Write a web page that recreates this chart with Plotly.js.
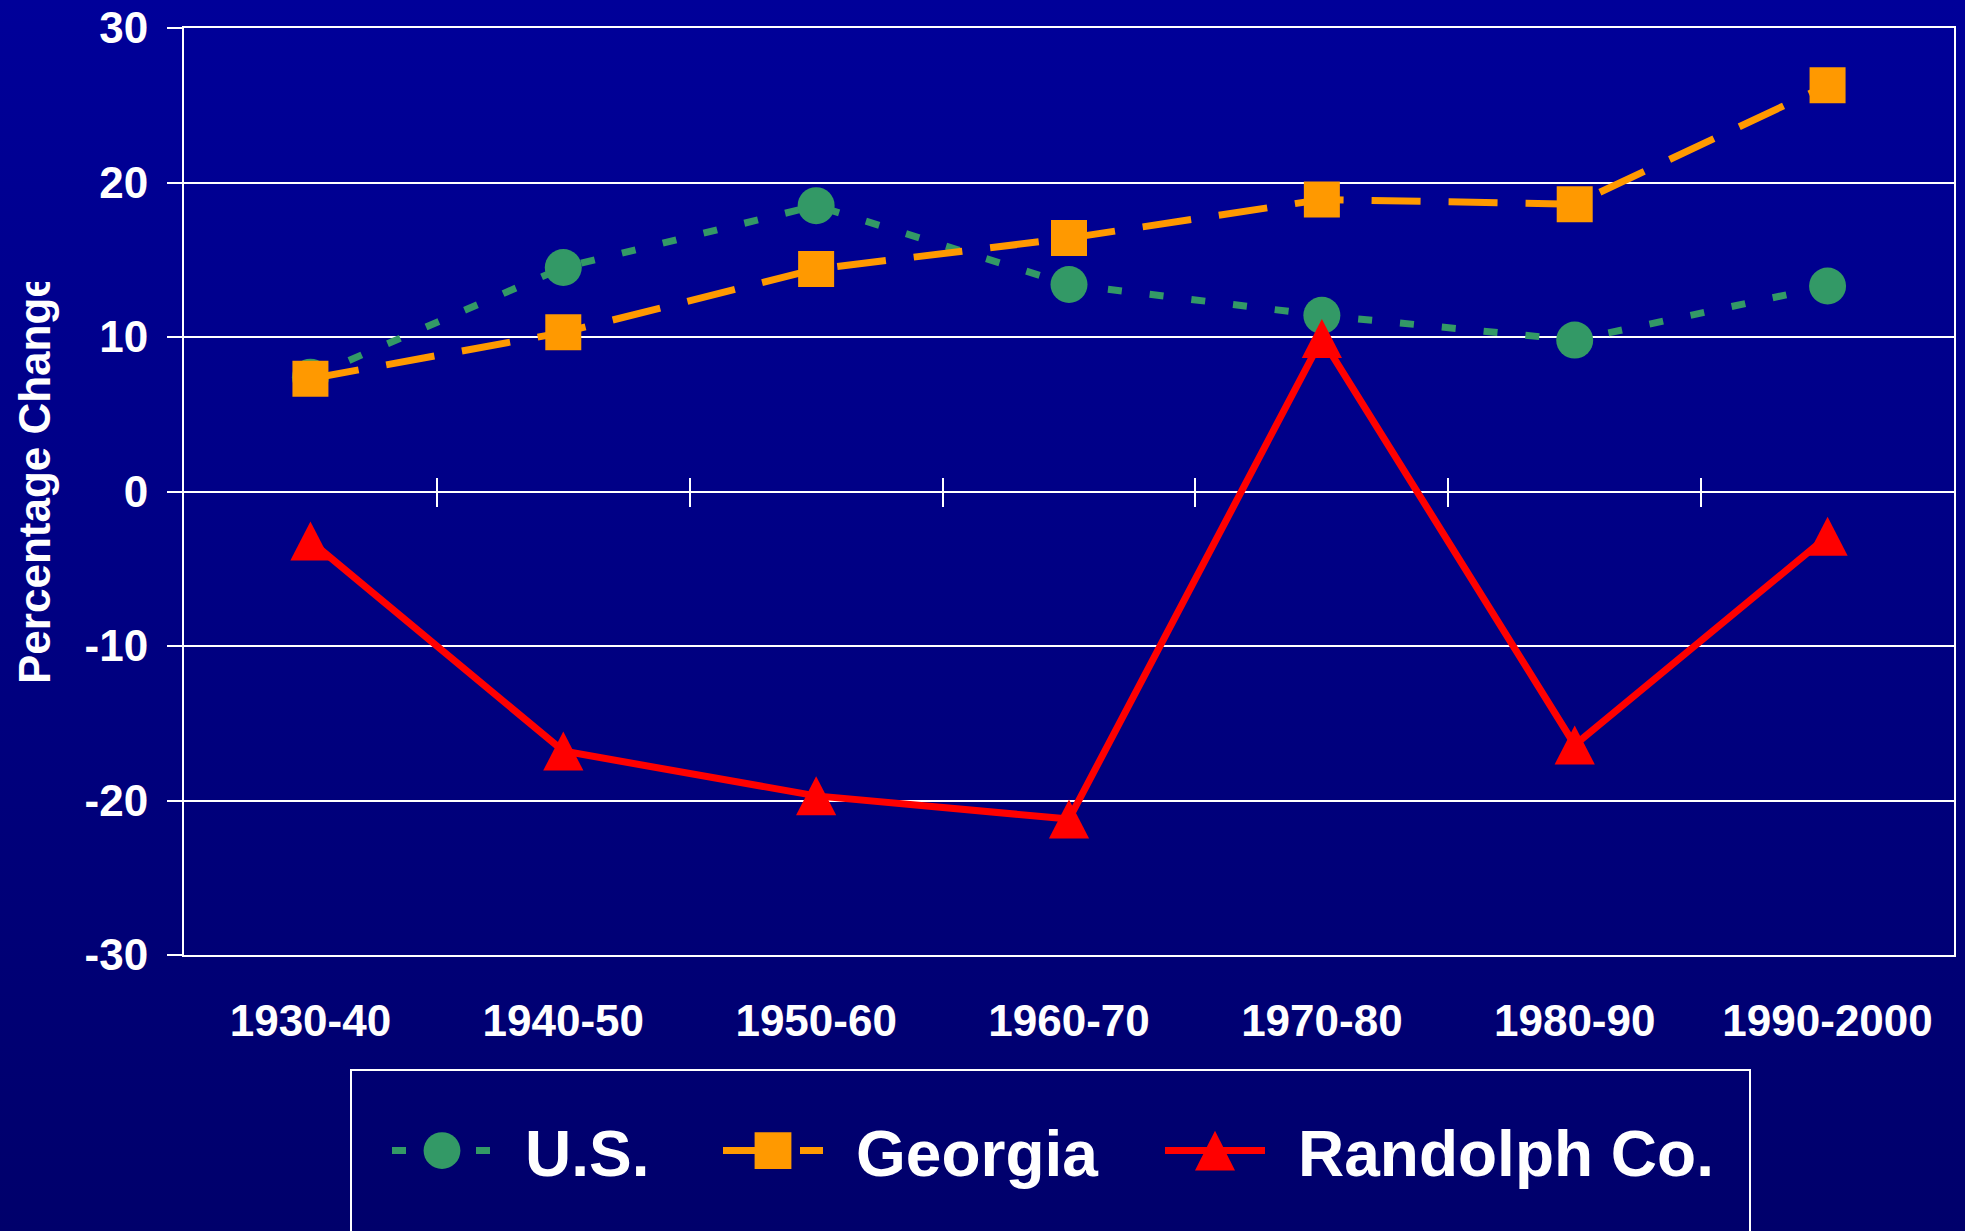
<!DOCTYPE html>
<html><head><meta charset="utf-8">
<script src="https://cdn.plot.ly/plotly-3.0.1.min.js"></script>
<style>
html,body{margin:0;padding:0;}
body{width:1965px;height:1231px;overflow:hidden;background:linear-gradient(to bottom,#000099 0%,#00006b 100%);}
#chart{width:1965px;height:1231px;}
</style></head><body>
<svg width="0" height="0" style="position:absolute"><defs><clipPath id="ytclip" clipPathUnits="userSpaceOnUse"><rect x="0" y="282" width="180" height="949"/></clipPath></defs></svg>
<div id="chart"></div>
<script>
const categories = ['1930-40','1940-50','1950-60','1960-70','1970-80','1980-90','1990-2000'];
const usValues = [7.4, 14.5, 18.5, 13.4, 11.4, 9.8, 13.3];
const georgiaValues = [7.3, 10.3, 14.4, 16.4, 18.9, 18.6, 26.3];
const randolphValues = [-3.2, -16.8, -19.7, -21.2, 9.9, -16.4, -2.9];
const seriesNames = ['U.S.', 'Georgia', 'Randolph Co.'];
const yTickValues = [-30, -20, -10, 0, 10, 20, 30];
const yTickText = yTickValues.map(v => String(v));
const yTitle = 'Percentage Change';

const FONT = '"Liberation Sans", Arial, sans-serif';
const boundaries = categories.slice(1).map((c, i) => i + 0.5);
const catRange = [-0.5, categories.length - 0.5];

const traces = [
  {x: categories, y: usValues, name: seriesNames[0], type: 'scatter', mode: 'lines+markers',
   line: {color: '#339966', width: 7, dash: '14px,28px'},
   marker: {symbol: 'circle', size: 37, color: '#339966', line: {width: 0}}},
  {x: categories, y: georgiaValues, name: seriesNames[1], type: 'scatter', mode: 'lines+markers',
   line: {color: '#FF9900', width: 7, dash: '49px,28px'},
   marker: {symbol: 'square', size: 36, color: '#FF9900', line: {width: 0}}},
  {x: categories, y: randolphValues, name: seriesNames[2], type: 'scatter', mode: 'lines+markers',
   line: {color: '#FF0000', width: 7},
   marker: {symbol: 'triangle-up', size: 40, color: '#FF0000', line: {width: 0}}},
  {x: [], y: [], xaxis: 'x2', yaxis: 'y', showlegend: false, hoverinfo: 'skip', type: 'scatter', mode: 'lines'},
  {x: [], y: [], xaxis: 'x3', yaxis: 'y', showlegend: false, hoverinfo: 'skip', type: 'scatter', mode: 'lines'}
];

const tickFont = {family: FONT, size: 44, color: '#FFFFFF', weight: 'bold'};
const L = 184, R = 1954, T = 28, B = 955, W = 1965, H = 1231;
const px2x = p => (p - L) / (R - L);
const px2y = p => (B - p) / (B - T);

const layout = {
  width: W, height: H,
  paper_bgcolor: 'rgba(0,0,0,0)', plot_bgcolor: 'rgba(0,0,0,0)',
  margin: {l: L, r: W - R, t: T, b: H - B, autoexpand: false},
  showlegend: true,
  xaxis: {type: 'category', categoryarray: categories, range: catRange,
    showline: true, mirror: true, linecolor: '#FFFFFF', linewidth: 2,
    ticks: '', showgrid: false, zeroline: false, tickfont: tickFont, ticklabelstandoff: 26, fixedrange: true},
  xaxis2: {overlaying: 'x', anchor: 'free', position: 0.5, type: 'linear', range: catRange,
    tickmode: 'array', tickvals: boundaries, ticks: 'outside', ticklen: 14, tickwidth: 2, tickcolor: '#FFFFFF',
    showticklabels: false, showgrid: false, zeroline: false, showline: false, fixedrange: true},
  xaxis3: {overlaying: 'x', anchor: 'free', position: 0.5, type: 'linear', range: catRange,
    tickmode: 'array', tickvals: boundaries, ticks: 'inside', ticklen: 14, tickwidth: 2, tickcolor: '#FFFFFF',
    showticklabels: false, showgrid: false, zeroline: false, showline: false, fixedrange: true},
  yaxis: {range: [-30, 30], tickmode: 'array', tickvals: yTickValues, ticktext: yTickText,
    showgrid: true, gridcolor: '#FFFFFF', gridwidth: 2,
    zeroline: true, zerolinecolor: '#FFFFFF', zerolinewidth: 2,
    showline: true, mirror: true, linecolor: '#FFFFFF', linewidth: 2,
    ticks: 'outside', ticklen: 15, tickwidth: 2, tickcolor: '#FFFFFF',
    tickfont: tickFont, ticklabelstandoff: 10, fixedrange: true},
  annotations: [{text: yTitle, xref: 'paper', yref: 'paper', x: px2x(34), y: px2y(479),
    xanchor: 'center', yanchor: 'middle', textangle: -90, showarrow: false,
    font: {family: FONT, size: 44, color: '#FFFFFF', weight: 'bold'}}],
  shapes: [{type: 'rect', xref: 'paper', yref: 'paper',
    x0: px2x(351), x1: px2x(1750), y0: px2y(1070), y1: px2y(1260),
    line: {color: '#FFFFFF', width: 2}, fillcolor: 'rgba(0,0,0,0)'}],
  legend: {orientation: 'h', x: px2x(387), xanchor: 'left', y: px2y(1151), yanchor: 'middle',
    font: {family: FONT, size: 64, color: '#FFFFFF', weight: 'bold'},
    bgcolor: 'rgba(0,0,0,0)', borderwidth: 0, itemwidth: 100, itemclick: false, itemdoubleclick: false}
};

// legend entry start offsets (px) relative to first entry, and text shift
const legendOffsets = [0, 331, 773];
const legendTextShift = 28;

const gd = document.getElementById('chart');
Plotly.newPlot(gd, traces, layout, {displayModeBar: false, staticPlot: true}).then(() => {
  gd.querySelectorAll('.legend .scrollbox').forEach(s => s.removeAttribute('clip-path'));
  const items = gd.querySelectorAll('.legend .traces');
  let x0 = null;
  items.forEach((g, i) => {
    const m = /translate\(\s*([-\d.]+)[\s,]+([-\d.]+)\s*\)/.exec(g.getAttribute('transform') || '');
    if (!m) return;
    const x = parseFloat(m[1]), y = parseFloat(m[2]);
    if (x0 === null) x0 = x;
    g.setAttribute('transform', 'translate(' + (x0 + (legendOffsets[i] || 0)) + ',' + y + ')');
    g.querySelectorAll('.legendtext').forEach(t => {
      t.setAttribute('x', parseFloat(t.getAttribute('x') || 0) + legendTextShift);
    });
    g.querySelectorAll('.scatterpts').forEach(p => {
      const t = p.getAttribute('transform') || '';
      if (i === 2) p.setAttribute('transform', t + ' translate(0,6.7) scale(2.165,3.33)');
      else p.setAttribute('transform', t + ' scale(2.3)');
    });
  });
  // reshape plot triangles to the taller Excel-style triangle
  gd.querySelectorAll('.scatterlayer .trace').forEach(tr => {
    const d = tr.__data__;
    const name = d && d[0] && d[0].trace ? d[0].trace.name : null;
    if (name !== seriesNames[2]) return;
    tr.querySelectorAll('.points path.point').forEach(p => {
      const t = p.getAttribute('transform') || '';
      p.setAttribute('transform', t + ' translate(0,6.5) scale(0.87,1.3)');
    });
  });
  const ann = gd.querySelector('.annotation');
  if (ann) ann.setAttribute('clip-path', 'url(#ytclip)');
});
</script>
</body></html>
